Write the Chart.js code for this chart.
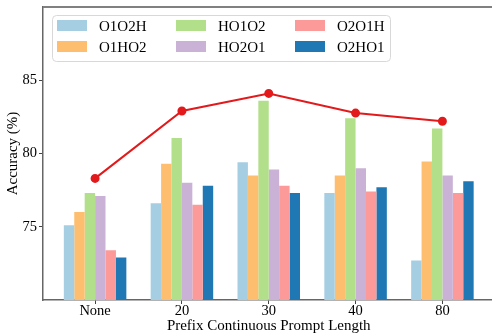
<!DOCTYPE html>
<html>
<head>
<meta charset="utf-8">
<script src="https://cdn.jsdelivr.net/npm/chart.js@4/dist/chart.umd.min.js"></script>
<style>
  html, body { margin: 0; padding: 0; background: #fff; overflow: hidden; }
  #wrap { width: 500px; height: 335px; }
</style>
</head>
<body>
<div id="wrap"><canvas id="chart" width="500" height="335"></canvas></div>
<script>
// categories and values
const categories = ["None", "20", "30", "40", "80"];
const seriesNames = ["O1O2H", "O1HO2", "HO1O2", "HO2O1", "O2O1H", "O2HO1"];
const o1o2h = [75.1, 76.6, 79.4, 77.3, 72.7];
const o1ho2 = [76.0, 79.3, 78.5, 78.5, 79.45];
const ho1o2 = [77.3, 81.05, 83.6, 82.4, 81.7];
const ho2o1 = [77.1, 78.0, 78.9, 79.0, 78.5];
const o2o1h = [73.4, 76.5, 77.8, 77.4, 77.3];
const o2ho1 = [72.9, 77.8, 77.3, 77.7, 78.1];
const bestLine = [78.3, 82.9, 84.1, 82.76, 82.2];
const yTicks = [75, 80, 85];

const barColors = ["#a6cee3", "#fdbf6f", "#b2df8a", "#cab2d6", "#fb9a99", "#1f78b4"];
const serif = "'Liberation Serif', 'DejaVu Serif', serif";

const allSeries = [o1o2h, o1ho2, ho1o2, ho2o1, o2o1h, o2ho1];
const toPoints = arr => arr.map((v, i) => ({ x: i, y: v }));

const datasets = allSeries.map((vals, k) => ({
  type: "bar",
  label: seriesNames[k],
  data: toPoints(vals),
  backgroundColor: barColors[k],
  borderWidth: 0,
  categoryPercentage: 0.72,
  barPercentage: 1.0,
  order: 1
}));

datasets.push({
  type: "line",
  label: "best",
  data: toPoints(bestLine),
  borderColor: "#e31a1c",
  backgroundColor: "#e31a1c",
  borderWidth: 2,
  pointRadius: 3.5,
  pointHoverRadius: 3.5,
  tension: 0,
  order: 0
});

// matplotlib style legend, 3 columns filled column by column
const legendBox = {
  id: "legendBox",
  afterDraw(chart) {
    const ctx = chart.ctx;
    ctx.save();
    const x0 = 52, y0 = 15, w = 338, h = 46;
    ctx.beginPath();
    ctx.roundRect(x0 + 0.5, y0 + 0.5, w, h, 4);
    ctx.fillStyle = "rgba(255,255,255,0.85)";
    ctx.fill();
    ctx.strokeStyle = "#d8d8d8";
    ctx.lineWidth = 1;
    ctx.stroke();

    const colX = [57, 176, 295];
    const rowY = [20, 41];
    ctx.font = "15px " + serif;
    ctx.textBaseline = "alphabetic";
    ctx.fillStyle = "#000";
    seriesNames.forEach((name, k) => {
      const c = Math.floor(k / 2), r = k % 2;
      ctx.fillStyle = barColors[k];
      ctx.fillRect(colX[c], rowY[r], 30, 11);
      ctx.fillStyle = "#000";
      ctx.fillText(name, colX[c] + 42, rowY[r] + 11);
    });
    ctx.restore();
  }
};

// top spine
const frame = {
  id: "frame",
  beforeDatasetsDraw(chart) {
    const a = chart.chartArea;
    const ctx = chart.ctx;
    ctx.save();
    ctx.strokeStyle = "#808080";
    ctx.lineWidth = 2;
    ctx.beginPath();
    ctx.moveTo(a.left, a.top);
    ctx.lineTo(a.right, a.top);
    ctx.stroke();
    ctx.restore();
  }
};

new Chart(document.getElementById("chart"), {
  data: { datasets: datasets },
  options: {
    responsive: false,
    animation: false,
    layout: { padding: { top: 7, right: 5, left: 4, bottom: 0 } },
    plugins: {
      legend: { display: false },
      tooltip: { enabled: false }
    },
    scales: {
      x: {
        type: "linear",
        min: -0.6,
        max: 4.6,
        offset: false,
        afterBuildTicks: s => { s.ticks = categories.map((c, i) => ({ value: i })); },
        afterFit: s => { s.height = 35; s.paddingLeft = 0; s.paddingRight = 0; },
        ticks: {
          color: "#000",
          font: { family: serif, size: 14.5 },
          padding: -2,
          callback: (v) => categories[v]
        },
        grid: { offset: false, drawOnChartArea: false, drawTicks: true, tickLength: 4, color: "#444" },
        border: { color: "#666", width: 1.5 },
        title: {
          display: true,
          text: "Prefix Continuous Prompt Length",
          color: "#000",
          font: { family: serif, size: 15 },
          padding: { top: 0, bottom: 0 }
        }
      },
      y: {
        min: 70,
        max: 90,
        afterBuildTicks: s => { s.ticks = yTicks.map(v => ({ value: v })); },
        afterFit: s => { s.width = 39; s.paddingTop = 0; s.paddingBottom = 0; },
        ticks: {
          color: "#000",
          font: { family: serif, size: 14.5 },
          padding: 2
        },
        grid: { drawOnChartArea: false, drawTicks: true, tickLength: 4, color: "#444" },
        border: { color: "#666", width: 1.5 },
        title: {
          display: true,
          text: "Accuracy (%)",
          color: "#000",
          font: { family: serif, size: 15 },
          padding: { top: 0, bottom: 2 }
        }
      }
    }
  },
  plugins: [frame, legendBox]
});
</script>
</body>
</html>
